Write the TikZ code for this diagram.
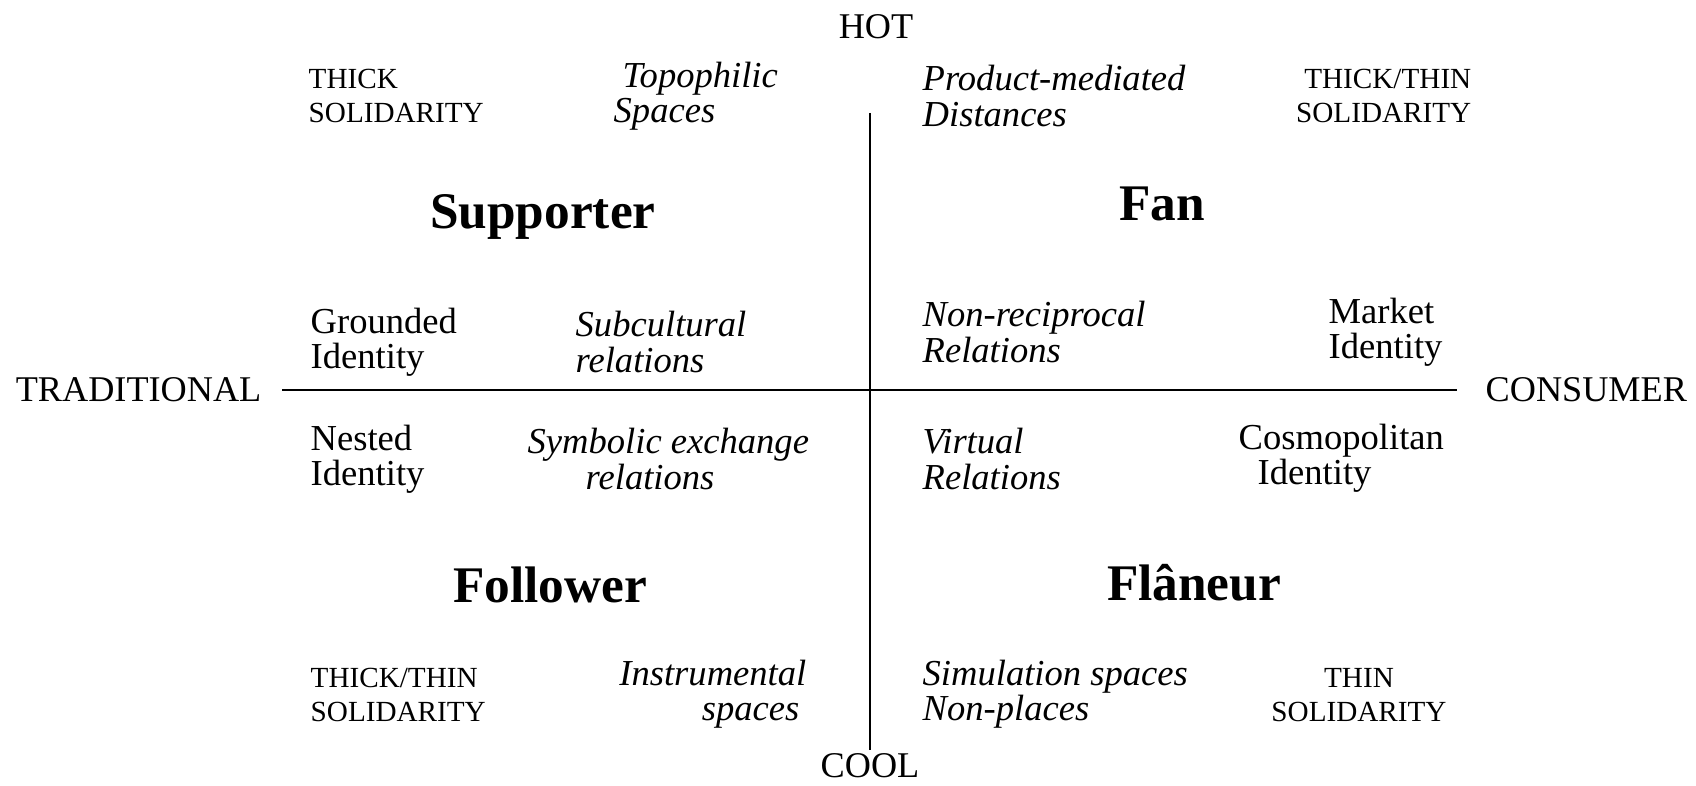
\documentclass[tikz,border=0pt]{standalone}
\usepackage{fontspec}
\setmainfont{Liberation Serif}
\usepackage{tikz}
\usetikzlibrary{positioning}

\begin{document}
\begin{tikzpicture}[x=0.01cm, y=-0.01cm,
  axis/.style={inner sep=0pt, font=\fontsize{10.3}{12}\selectfont},
  axisline/.style={line width=0.6pt},
  caps/.style={inner sep=0pt, align=left, font=\fontsize{8.3}{9.6}\selectfont},
  ident/.style={inner sep=0pt, align=left, font=\fontsize{10.4}{10}\selectfont},
  rel/.style={ident, font=\fontsize{10.4}{10}\selectfont\itshape},
  quad/.style={inner sep=0pt, font=\fontsize{14.6}{16}\selectfont\bfseries}]
  \useasboundingbox (0,0) rectangle (1696,786);
  \node[axis] (hot) at (876,27) {HOT};
  \node[axis] (cool) at (870,766) {COOL};
  \node[axis, anchor=east] (trad) at (262,390) {TRADITIONAL};
  \node[axis, anchor=west] (cons) at (1485,390) {CONSUMER};
  \coordinate (vtop) at (870,113);
  \draw[axisline, shorten <=0.2cm, shorten >=0.28cm] (trad) -- (cons);
  \draw[axisline, shorten >=0.03cm] (vtop) -- (cool);
  \node[quad] (supp) at (543,217) {Supporter};
  \node[quad] (fan) at (1162,204) {Fan};
  \node[quad] (foll) at (550,585) {Follower};
  \node[quad] (flan) at (1194,583) {Flâneur};
  \node[caps, anchor=west] (solTL) at (308,96) {THICK\\SOLIDARITY};
  \node[rel, anchor=west] (topo) at (613,96) {\hspace*{0.09cm}Topophilic\\Spaces};
  \node[rel, anchor=west] (prod) at (922,96) {Product-mediated\\Distances};
  \node[caps, anchor=east, align=right] (solTR) at (1472,96) {THICK/THIN\\SOLIDARITY};
  \node[ident, anchor=west] (ground) at (310,342) {Grounded\\Identity};
  \node[rel, anchor=west] (subc) at (575,342) {Subcultural\\relations};
  \node[rel, anchor=west] (nonrec) at (922,332) {Non-reciprocal\\Relations};
  \node[ident, anchor=west] (market) at (1328,332) {Market\\Identity};
  \node[ident, anchor=west] (nested) at (310,459) {Nested\\Identity};
  \node[rel, anchor=west] (symb) at (527,459) {Symbolic exchange\\\hspace*{0.58cm}relations};
  \node[rel, anchor=west] (virt) at (922,459) {Virtual\\Relations};
  \node[ident, anchor=west] (cosmo) at (1238,458) {Cosmopolitan\\\hspace*{0.19cm}Identity};
  \node[caps, anchor=west] (solBL) at (310,695) {THICK/THIN\\SOLIDARITY};
  \node[rel, anchor=east, align=right] (instr) at (807,694) {Instrumental\\spaces\hspace*{0.07cm}};
  \node[rel, anchor=west] (simul) at (922,694) {Simulation spaces\\Non-places};
  \node[caps, align=center] (solBR) at (1359,695) {THIN\\SOLIDARITY};
\end{tikzpicture}
\end{document}
